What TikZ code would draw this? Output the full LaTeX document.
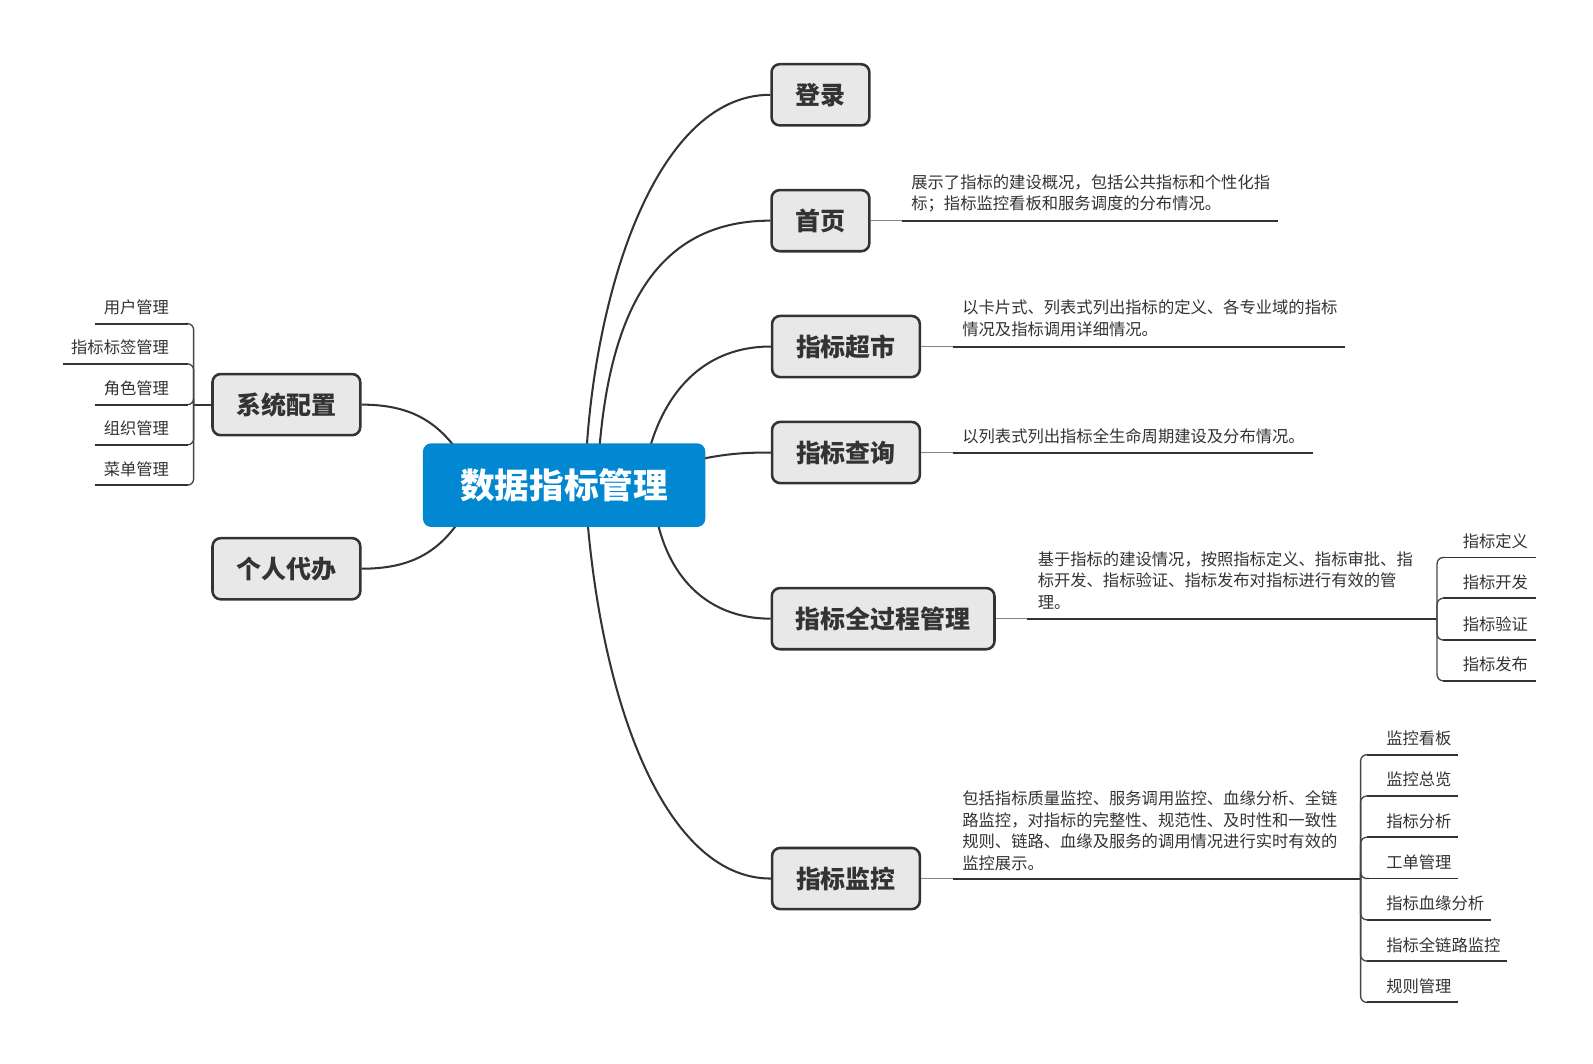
\documentclass[tikz,border=0pt]{standalone}
\usepackage{fontspec}
\setmainfont{Noto Sans CJK SC}
\usetikzlibrary{backgrounds}
\definecolor{lnc}{RGB}{51,51,51}
\definecolor{boxfill}{RGB}{232,232,232}
\definecolor{rootfill}{RGB}{2,136,209}
\definecolor{stubc}{RGB}{130,130,130}
\definecolor{txtc}{RGB}{51,51,51}
\definecolor{brkc}{RGB}{70,70,70}
\begin{document}
\begin{tikzpicture}[x=1pt,y=-1pt,
 topic/.style={draw=lnc, line width=2.5pt, fill=boxfill, rounded corners=8pt, minimum height=60pt, inner xsep=23.5pt, inner ysep=0pt, font=\fontsize{24.5}{28}\selectfont\bfseries, text=txtc},
 roottopic/.style={fill=rootfill, rounded corners=8pt, minimum height=82pt, inner xsep=36.5pt, font=\fontsize{34}{40}\selectfont\bfseries, text=white},
 conn/.style={draw=lnc, line width=2pt},
 notetext/.style={anchor=north west, inner sep=0pt, align=left, font=\fontsize{16}{21}\selectfont, text=txtc},
 uline/.style={draw=lnc, line width=2pt},
 leafline/.style={draw=lnc, line width=1.8pt},
 stub/.style={draw=stubc, line width=1.5pt},
 brk/.style={draw=brkc, line width=1.3pt, rounded corners=6pt},
 leaf/.style={inner sep=0pt, font=\fontsize{16}{20}\selectfont, text=txtc},
 ]
\useasboundingbox (0,0) rectangle (1563,1043);

% main topics
\node[roottopic] (root) at (553.5,476) {数据指标管理};
\node[topic] (login) at (805,93) {登录};
\node[topic] (home) at (805,216.5) {首页};
\node[topic] (market) at (830,340) {指标超市};
\node[topic] (query) at (830,444) {指标查询};
\node[topic] (process) at (866.5,607) {指标全过程管理};
\node[topic] (monitor) at (830,862) {指标监控};
\node[topic] (sysconf) at (281,397) {系统配置};
\node[topic] (todo) at (281,558) {个人代办};

\begin{pgfonlayer}{background}
\fill[white] (0,0) rectangle (1563,1043);
\draw[conn] ([xshift=20.5pt]root.center) .. controls (578,300) and (640,93) .. (login.west);
\draw[conn] ([xshift=32.5pt]root.center) .. controls (592,320) and (635,216.5) .. (home.west);
\draw[conn] ([xshift=76.5pt]root.center) .. controls (640,400) and (680,340) .. (market.west);
\draw[conn] ([xshift=86.5pt,yshift=14pt]root.center) .. controls (700,446) and (720,444) .. (query.west);
\draw[conn] ([xshift=86.5pt]root.center) .. controls (645,560) and (690,607) .. (process.west);
\draw[conn] ([xshift=20.5pt]root.center) .. controls (585,680) and (650,862) .. (monitor.west);
\draw[conn] (sysconf.east) .. controls (405,397) and (435,415) .. ([xshift=-93.5pt,yshift=16pt]root.center);
\draw[conn] (todo.east) .. controls (405,558) and (435,541) .. ([xshift=-93.5pt,yshift=-20pt]root.center);
\end{pgfonlayer}

% notes
\node[notetext] (homenote) at (894,171) {展示了指标的建设概况，包括公共指标和个性化指\\标；指标监控看板和服务调度的分布情况。};
\coordinate (homeA) at (885,216.5);
\coordinate (homeB) at (1254,216.5);
\draw[stub] (home.east) -- (homeA);
\draw[uline] (homeA) -- (homeB);

\node[notetext] (marketnote) at (944,294) {以卡片式、列表式列出指标的定义、各专业域的指标\\情况及指标调用详细情况。};
\coordinate (marketA) at (935,340);
\coordinate (marketB) at (1320,340);
\draw[stub] (market.east) -- (marketA);
\draw[uline] (marketA) -- (marketB);

\node[notetext] (querynote) at (944,420) {以列表式列出指标全生命周期建设及分布情况。};
\coordinate (queryA) at (935,444);
\coordinate (queryB) at (1288,444);
\draw[stub] (query.east) -- (queryA);
\draw[uline] (queryA) -- (queryB);

\node[notetext] (processnote) at (1018,541) {基于指标的建设情况，按照指标定义、指标审批、指\\标开发、指标验证、指标发布对指标进行有效的管\\理。};
\coordinate (processA) at (1008,607);
\coordinate (processB) at (1410,607);
\draw[stub] (process.east) -- (processA);
\draw[uline] (processA) -- (processB);

\node[notetext] (monitornote) at (944,776) {包括指标质量监控、服务调用监控、血缘分析、全链\\路监控，对指标的完整性、规范性、及时性和一致性\\规则、链路、血缘及服务的调用情况进行实时有效的\\监控展示。};
\coordinate (monitorA) at (935,862);
\coordinate (monitorB) at (1335,862);
\draw[stub] (monitor.east) -- (monitorA);
\draw[uline] (monitorA) -- (monitorB);

% process children
\foreach \y/\t/\n in {547/指标定义/p1, 587/指标开发/p2, 628/指标验证/p3, 668/指标发布/p4}{
  \node[leaf, anchor=west] (\n) at (1435,\y-16) {\t};
  \draw[brk] (processB) |- (1418,\y);
  \draw[leafline] (1416,\y) -- (1507,\y);
}

% monitor children
\foreach \y/\t/\e/\n in {740.5/监控看板/1431/m1, 781/监控总览/1431/m2, 821.5/指标分析/1431/m3, 862/工单管理/1431/m4, 902.5/指标血缘分析/1463/m5, 943/指标全链路监控/1479/m6, 983.5/规则管理/1431/m7}{
  \node[leaf, anchor=west] (\n) at (1360,\y-16) {\t};
  \draw[brk] (monitorB) |- (1343,\y);
  \draw[leafline] (1341,\y) -- (\e,\y);
}

% sysconf children
\coordinate (sysA) at (190,397);
\draw[uline] (sysconf.west) -- (sysA);
\foreach \y/\t/\s/\n in {317.5/用户管理/93/s1, 357/指标标签管理/62/s2, 397/角色管理/93/s3, 436.5/组织管理/93/s4, 476/菜单管理/93/s5}{
  \node[leaf, anchor=east] (\n) at (166,\y-16) {\t};
  \draw[brk] (sysA) |- (182,\y);
  \draw[leafline] (\s,\y) -- (184,\y);
}
\end{tikzpicture}
\end{document}
